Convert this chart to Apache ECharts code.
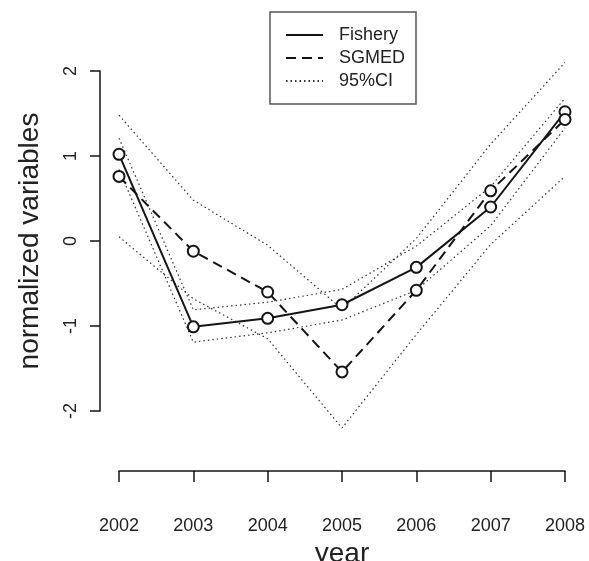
<!DOCTYPE html>
<html>
<head>
<meta charset="utf-8">
<script src="https://cdn.jsdelivr.net/npm/echarts@6/dist/echarts.min.js"></script>
<style>
html,body{margin:0;padding:0;background:#fff;}
#chart{width:589px;height:561px;}
</style>
</head>
<body>
<div id="chart"></div>
<script>
// Data
const years = [2002, 2003, 2004, 2005, 2006, 2007, 2008];
const fishery = [1.02, -1.01, -0.91, -0.75, -0.31, 0.40, 1.52];
const sgmed = [0.76, -0.12, -0.60, -1.54, -0.58, 0.59, 1.43];
const fisheryUpper = [1.21, -0.81, -0.72, -0.57, -0.06, 0.64, 1.68];
const fisheryLower = [0.84, -1.19, -1.08, -0.93, -0.58, 0.18, 1.33];
const sgmedUpper = [1.48, 0.48, -0.05, -0.80, 0.03, 1.14, 2.10];
const sgmedLower = [0.05, -0.68, -1.15, -2.20, -1.10, -0.04, 0.76];
const yTicks = [-2, -1, 0, 1, 2];

const pair = (arr) => years.map((y, i) => [y, arr[i]]);
const FONT = 'Liberation Sans, Arial, sans-serif';
const INK = '#151515';

const ciSeries = [fisheryUpper, fisheryLower, sgmedUpper, sgmedLower].map(arr => ({
  name: '95%CI', type: 'line', data: pair(arr), symbol: 'none', clip: false,
  color: '#333',
  lineStyle: {color: '#333', width: 1.2, type: [1.5, 3]}, z: 1
}));

const option = {
  animation: false,
  backgroundColor: '#fff',
  textStyle: {fontFamily: FONT},
  legend: {
    orient: 'vertical', left: 270, top: 12,
    padding: [14, 11, 14, 15], itemGap: 5, itemWidth: 37, itemHeight: 18,
    borderColor: '#555', borderWidth: 1.5, selectedMode: false,
    itemStyle: {opacity: 0},
    textStyle: {fontSize: 18, color: '#222', fontFamily: FONT, padding: [0, 0, 0, 11]},
    data: ['Fishery', 'SGMED', '95%CI']
  },
  grid: {left: 119, right: 24, top: 71, height: 340, outerBoundsMode: 'none'},
  xAxis: {
    type: 'value', min: years[0], max: years[years.length - 1], interval: 1, offset: 60,
    name: 'year', nameLocation: 'middle', nameGap: 55,
    nameTextStyle: {fontSize: 28, color: '#222', fontFamily: FONT},
    axisLine: {onZero: false, lineStyle: {color: INK, width: 1.5}},
    axisTick: {length: 11, lineStyle: {color: INK, width: 1.5}},
    axisLabel: {margin: 46, fontSize: 18, color: '#222', fontFamily: FONT, formatter: v => String(v)},
    splitLine: {show: false}
  },
  yAxis: {
    type: 'value', min: yTicks[0], max: yTicks[yTicks.length - 1], interval: 1, offset: 19,
    name: 'normalized variables', nameLocation: 'middle', nameGap: 56, nameRotate: 90,
    nameTextStyle: {fontSize: 28, color: '#222', fontFamily: FONT},
    axisLine: {onZero: false, lineStyle: {color: INK, width: 1.5}},
    axisTick: {length: 10, lineStyle: {color: INK, width: 1.5}},
    axisLabel: {margin: 20, rotate: 90, fontSize: 18, color: '#222', fontFamily: FONT},
    splitLine: {show: false}
  },
  series: [
    ...ciSeries,
    {name: 'Fishery', type: 'line', data: pair(fishery), symbol: 'none', clip: false, color: INK,
     lineStyle: {color: INK, width: 2}, z: 2},
    {name: 'SGMED', type: 'line', data: pair(sgmed), symbol: 'none', clip: false, color: INK,
     lineStyle: {color: INK, width: 2, type: [10, 6]}, z: 2},
    {name: 'Fishery points', type: 'scatter', data: pair(fishery), symbol: 'circle', symbolSize: 11, clip: false,
     itemStyle: {color: '#fff', borderColor: INK, borderWidth: 2, opacity: 1}, z: 3},
    {name: 'SGMED points', type: 'scatter', data: pair(sgmed), symbol: 'circle', symbolSize: 11, clip: false,
     itemStyle: {color: '#fff', borderColor: INK, borderWidth: 2, opacity: 1}, z: 3}
  ]
};

const chart = echarts.init(document.getElementById('chart'), null, {renderer: 'canvas'});
chart.setOption(option);
</script>
</body>
</html>
